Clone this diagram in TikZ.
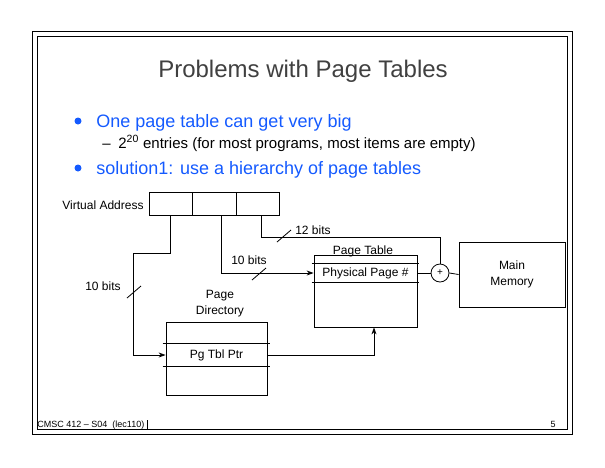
\documentclass[tikz,border=0pt]{standalone}
\usepackage{fontspec}
\setmainfont{Liberation Sans}
\usetikzlibrary{arrows.meta}
\definecolor{slideblue}{RGB}{20,90,255}
\definecolor{titlegray}{RGB}{64,64,64}
\newcommand\bitcut[1]{\draw (#1) ++(-7,6) -- ++(14,-12);}

\begin{document}
\begin{tikzpicture}[x=1pt, y=-1pt, line width=0.8pt, >={Stealth[length=7pt,width=5pt]}]
				\tikzstyle{every node}=[inner sep=0pt, align=center, font=\fontsize{12}{16}\selectfont]
				\tikzstyle{box}=[draw, rectangle]
				\tikzstyle{dot}=[circle, fill=slideblue, minimum size=7pt]
				\useasboundingbox (0,0) rectangle (605,467);
				\draw[line width=1pt] (32,31) rectangle (572,434);
				\draw[line width=1pt] (37,36) rectangle (567,429);
				\draw (147,420) -- (147,429);
				\node[anchor=base, font=\fontsize{24}{28}\selectfont, text=titlegray] (title) at (303,77) {Problems with Page Tables};
				\node[dot] (dotA) at (78,121) {};
				\node[anchor=base west, font=\fontsize{18}{22}\selectfont, text=slideblue] (itemA) at (96,127) {One page table can get very big};
				\node[anchor=base west, font=\fontsize{15}{18}\selectfont] (dash) at (102,148) {–};
				\node[anchor=base west, font=\fontsize{15}{18}\selectfont] (sub) at (118,148) {2\textsuperscript{20} entries (for most programs, most items are empty)};
				\node[dot] (dotB) at (78,168) {};
				\node[anchor=base west, font=\fontsize{18}{22}\selectfont, text=slideblue] (itemB) at (96,174) {solution1: use a hierarchy of page tables};
				% virtual address
				\node[box, minimum width=43pt, minimum height=23pt] (vaA) at (170.5,203.5) {};
				\node[box, minimum width=44pt, minimum height=23pt] (vaB) at (214,203.5) {};
				\node[box, minimum width=43pt, minimum height=23pt] (vaC) at (257.5,203.5) {};
				\node[anchor=east] (valabel) at (144,205) {Virtual Address};
				% page table
				\node[box, minimum width=103pt, minimum height=72pt] (pt) at (365.5,291) {};
				\node[minimum width=103pt, minimum height=18pt] (ppn) at (365.5,273) {Physical Page \#};
				\draw ([xshift=-2pt]ppn.north west) -- ([xshift=2pt]ppn.north east);
				\draw ([xshift=-2pt]ppn.south west) -- ([xshift=2pt]ppn.south east);
				\node[anchor=base] (ptlabel) at (363,254) {Page Table};
				\node[draw, circle, minimum size=18pt, font=\fontsize{10}{12}\selectfont] (plus) at (440,273) {+};
				\node[box, minimum width=106pt, minimum height=65pt] (mm) at (512,274.5) {Main\\Memory};
				% page directory
				\node[box, minimum width=101pt, minimum height=73pt] (pd) at (216.5,358.5) {};
				\node[minimum width=101pt, minimum height=22pt] (ptr) at (216.5,355) {Pg Tbl Ptr};
				\draw ([xshift=-3pt]ptr.north west) -- ([xshift=3pt]ptr.north east);
				\draw ([xshift=-3pt]ptr.south west) -- ([xshift=3pt]ptr.south east);
				\node (pdlabel) at (220,304) {Page\\Directory};
				% wiring
				\draw[->] (vaA.south) -- ++(0,38) -- ++(-37,0) |- (ptr.west);
				\draw[->] ([xshift=7pt]vaB.south) |- (ppn.west);
				\draw ([xshift=3.5pt]vaC.south) -- ++(0,22) -| (plus.north);
				\draw (ppn.east) -- (plus.west);
				\draw (plus.east) -- (mm.west);
				\draw[->] (ptr.east) -| ([xshift=8.5pt]pt.south);
				\bitcut{134,292}
				\bitcut{259,274}
				\bitcut{284,236}
				\node (bitsA) at (103,286) {10 bits};
				\node (bitsB) at (249,260) {10 bits};
				\node (bitsC) at (313,230) {12 bits};
				\node[anchor=base west, font=\fontsize{9}{11}\selectfont] (footer) at (37,427) {CMSC 412 – S04\ \ (lec110)};
				\node[anchor=base, font=\fontsize{9}{11}\selectfont] (pagenum) at (553,427) {5};
		\end{tikzpicture}
\end{document}
